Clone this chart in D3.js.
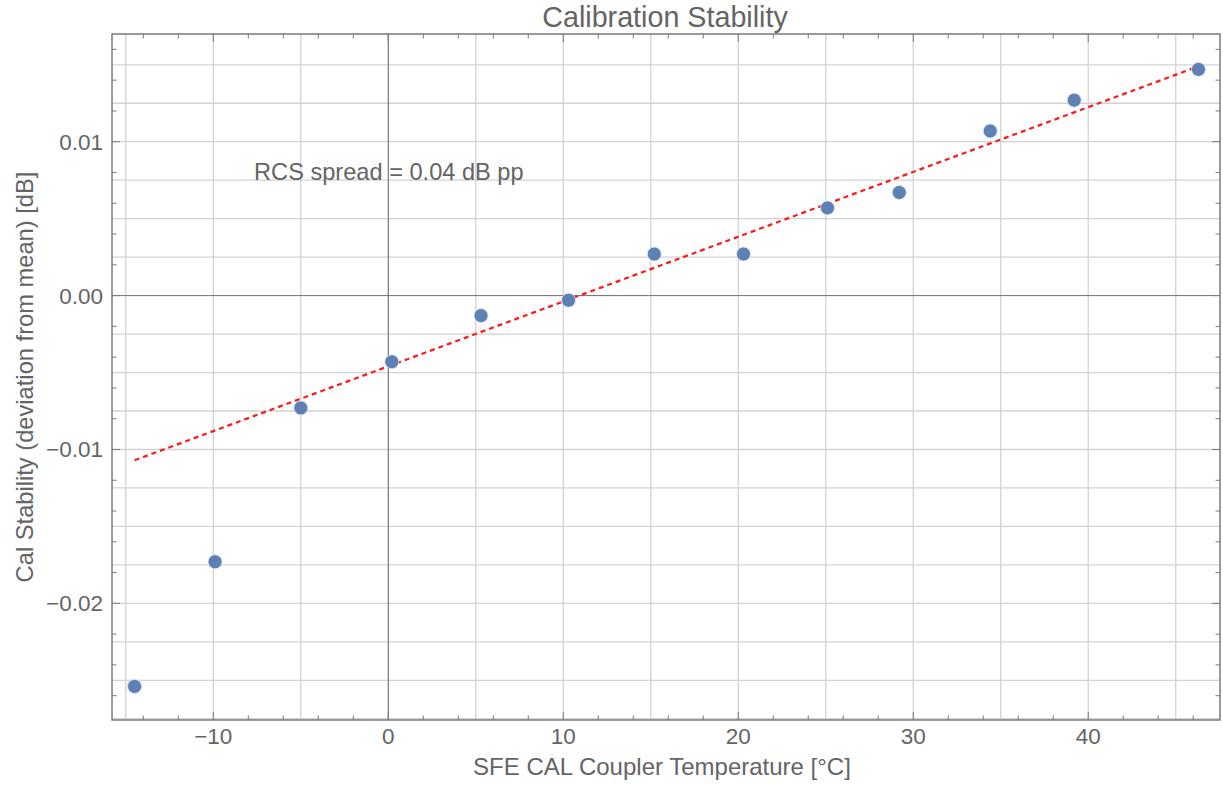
<!DOCTYPE html>
<html>
<head>
<meta charset="utf-8">
<script src="https://cdn.jsdelivr.net/npm/d3@7"></script>
<style>
  body { margin: 0; background: #fff; }
  svg text { font-family: "Liberation Sans", Arial, sans-serif; fill: #646464; }
</style>
</head>
<body>
<div id="chart"></div>
<script>
// Calibration stability vs coupler temperature

// data
var temps = [-14.5, -9.9, -5.0, 0.2, 5.3, 10.3, 15.2, 20.3, 25.1, 29.2, 34.4, 39.2, 46.3];
var deviations = [-0.0254, -0.0173, -0.0073, -0.0043, -0.0013, -0.0003, 0.0027, 0.0027, 0.0057, 0.0067, 0.0107, 0.0127, 0.0147];
var fitTemps = [-14.5, 46.3];
var fitDeviations = [-0.0107, 0.0149];
var xTickValues = [-10, 0, 10, 20, 30, 40];
var yTickValues = [-0.02, -0.01, 0.00, 0.01];
var yTickLabels = ["\u22120.02", "\u22120.01", "0.00", "0.01"];

// layout
var W = 1223, H = 785;
var pL = 112, pR = 1220, pT = 34, pB = 720;

var x = d3.scaleLinear().domain([-15.79, 47.53]).range([pL, pR]);
var y = d3.scaleLinear().domain([-0.02758, 0.0170]).range([pB, pT]);

var svg = d3.select("#chart").append("svg")
    .attr("width", W)
    .attr("height", H);

// grid lines
var gridColor = "#d2d2d2";
svg.append("g").selectAll("line")
    .data(d3.range(-15, 46, 5))
    .enter().append("line")
    .attr("x1", d => x(d)).attr("x2", d => x(d))
    .attr("y1", pT).attr("y2", pB)
    .attr("stroke", gridColor).attr("stroke-width", 1.3);

svg.append("g").selectAll("line")
    .data(d3.range(-0.0275, 0.0151, 0.0025).filter(d => Math.abs(d) > 1e-9))
    .enter().append("line")
    .attr("x1", pL).attr("x2", pR)
    .attr("y1", d => y(d)).attr("y2", d => y(d))
    .attr("stroke", gridColor).attr("stroke-width", 1.3);

// zero axes
svg.append("line")
    .attr("x1", x(0)).attr("x2", x(0)).attr("y1", pT).attr("y2", pB)
    .attr("stroke", "#6e6e6e").attr("stroke-width", 1);
svg.append("line")
    .attr("x1", pL).attr("x2", pR).attr("y1", y(0)).attr("y2", y(0))
    .attr("stroke", "#6e6e6e").attr("stroke-width", 1);

// frame ticks (inward, all four sides)
var xMinor = d3.range(-14, 47, 2);
var yMinor = d3.range(-0.026, 0.0161, 0.002);
var tickColor = "#7a7a7a";
function tlen(v, step) { return Math.abs(v / step - Math.round(v / step)) < 1e-6 ? 8 : 4.5; }

var ticks = svg.append("g").attr("stroke", tickColor).attr("stroke-width", 1);
xMinor.forEach(function(v) {
    var l = tlen(v, 10);
    ticks.append("line").attr("x1", x(v)).attr("x2", x(v)).attr("y1", pB).attr("y2", pB - l);
    ticks.append("line").attr("x1", x(v)).attr("x2", x(v)).attr("y1", pT).attr("y2", pT + l);
});
yMinor.forEach(function(v) {
    var l = tlen(v, 0.01);
    ticks.append("line").attr("x1", pL).attr("x2", pL + l).attr("y1", y(v)).attr("y2", y(v));
    ticks.append("line").attr("x1", pR).attr("x2", pR - l).attr("y1", y(v)).attr("y2", y(v));
});

// frame
svg.append("rect")
    .attr("x", pL).attr("y", pT)
    .attr("width", pR - pL).attr("height", pB - pT)
    .attr("fill", "none").attr("stroke", "#7a7a7a").attr("stroke-width", 1.5);

// tick labels
svg.append("g").selectAll("text")
    .data(xTickValues)
    .enter().append("text")
    .attr("x", d => x(d))
    .attr("y", 744)
    .attr("text-anchor", "middle")
    .style("font-size", "22.5px")
    .text(d => d < 0 ? "\u2212" + Math.abs(d) : d);

svg.append("g").selectAll("text")
    .data(yTickValues)
    .enter().append("text")
    .attr("x", 103)
    .attr("y", d => y(d) + 8)
    .attr("text-anchor", "end")
    .style("font-size", "22.5px")
    .text((d, i) => yTickLabels[i]);

// fit line
var line = d3.line().x(d => x(d[0])).y(d => y(d[1]));
svg.append("path")
    .datum(fitTemps.map((t, i) => [t, fitDeviations[i]]))
    .attr("d", line)
    .attr("fill", "none")
    .attr("stroke", "#ff1a1a")
    .attr("stroke-width", 2.2)
    .attr("stroke-dasharray", "5,4");

// points
svg.append("g").selectAll("circle")
    .data(temps)
    .enter().append("circle")
    .attr("cx", d => x(d))
    .attr("cy", (d, i) => y(deviations[i]))
    .attr("r", 7)
    .attr("fill", "#5e81b5")
    .attr("stroke", "#dfe7f2")
    .attr("stroke-width", 0.8);

// annotation
svg.append("text")
    .attr("x", x(-7.67))
    .attr("y", y(0.0075))
    .style("font-size", "23.6px")
    .text("RCS spread = 0.04 dB pp");

// titles
svg.append("text")
    .attr("x", 665).attr("y", 27)
    .attr("text-anchor", "middle")
    .style("font-size", "28.7px")
    .text("Calibration Stability");

svg.append("text")
    .attr("x", 662).attr("y", 775)
    .attr("text-anchor", "middle")
    .style("font-size", "24px")
    .text("SFE CAL Coupler Temperature [°C]");

svg.append("text")
    .attr("transform", "translate(33,377) rotate(-90)")
    .attr("text-anchor", "middle")
    .style("font-size", "23.7px")
    .text("Cal Stability (deviation from mean) [dB]");
</script>
</body>
</html>
